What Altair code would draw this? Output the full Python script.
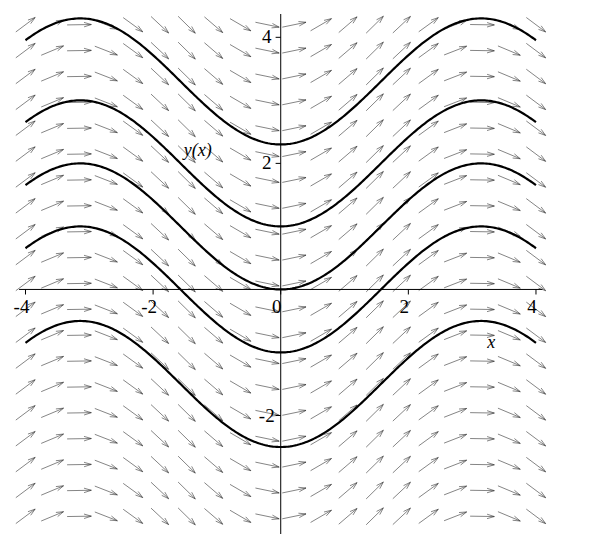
import altair as alt, numpy as np, pandas as pd

XMIN, XMAX, YMIN, YMAX = -4.18, 4.69, -3.88, 4.37
consts = [3.3, 2.0, 1.0, 0.0, -1.5]   # solution constants y = C - cos(x)
xt = [-4, -2, 0, 2, 4]; yt = [-2, 2, 4]

# direction field y' = sin(x)
gx = np.linspace(-4.0, 4.0, 20); gy = np.linspace(-3.6, 4.2, 20)
seg = []
L = 0.38
for x in gx:
    for y in gy:
        dx, dy = 1.0, np.sin(x); n = np.hypot(dx, dy); ux, uy = dx/n, dy/n
        x0, y0 = x-ux*L/2, y-uy*L/2; x1, y1 = x+ux*L/2, y+uy*L/2
        seg.append((x0, y0, x1, y1))
        for s in (1, -1):
            a = np.pi-0.3*s
            hx = ux*np.cos(a)-uy*np.sin(a); hy = ux*np.sin(a)+uy*np.cos(a)
            seg.append((x1, y1, x1+hx*0.12, y1+hy*0.12))
sd = pd.DataFrame(seg, columns=["x", "y", "x2", "y2"])

xs = np.linspace(-4, 4, 300)
cd = pd.DataFrame([{"x": x, "y": c-np.cos(x), "c": str(c)} for c in consts for x in xs])

sx = alt.Scale(domain=[XMIN, XMAX], nice=False, zero=False)
sy = alt.Scale(domain=[YMIN, YMAX], nice=False, zero=False)
X = alt.X("x:Q", scale=sx, axis=None); Y = alt.Y("y:Q", scale=sy, axis=None)

field = alt.Chart(sd).mark_rule(color="#333", strokeWidth=0.6).encode(X, Y, x2="x2:Q", y2="y2:Q")
curves = alt.Chart(cd).mark_line(color="black", strokeWidth=2.2).encode(X, Y, detail="c:N")
axes = alt.Chart(pd.DataFrame({"x": [-4.1, 0], "y": [0, YMIN], "x2": [4.1, 0], "y2": [0, YMAX]})).mark_rule(color="black", strokeWidth=1).encode(X, Y, x2="x2:Q", y2="y2:Q")
xtd = pd.DataFrame({"x": xt, "y": [0]*5, "x2": xt, "y2": [-0.08]*5, "t": [str(v) for v in xt]})
ytd = pd.DataFrame({"x": [0]*3, "y": yt, "x2": [-0.08]*3, "y2": yt, "t": [str(v) for v in yt]})
ticks = alt.Chart(pd.concat([xtd, ytd])).mark_rule(color="black").encode(X, Y, x2="x2:Q", y2="y2:Q")
font = "Liberation Serif, Times New Roman, serif"
xl = alt.Chart(xtd).mark_text(font=font, fontSize=19, dy=18, dx=-4).encode(X, Y, text="t:N")
yl = alt.Chart(ytd).mark_text(font=font, fontSize=19, dx=-14).encode(X, Y, text="t:N")
names = alt.Chart(pd.DataFrame({"x": [3.3, -1.3], "y": [-0.85, 2.2], "t": ["x", "y(x)"]})).mark_text(font=font, fontSize=18, fontStyle="italic").encode(X, Y, text="t:N")

chart = (field + curves + axes + ticks + xl + yl + names).properties(
    width=577, height=532, autosize=alt.AutoSizeParams(type="fit", contains="padding")
).configure_view(stroke=None)
chart.save("out.html", embed_options={"renderer": "svg", "actions": False})
